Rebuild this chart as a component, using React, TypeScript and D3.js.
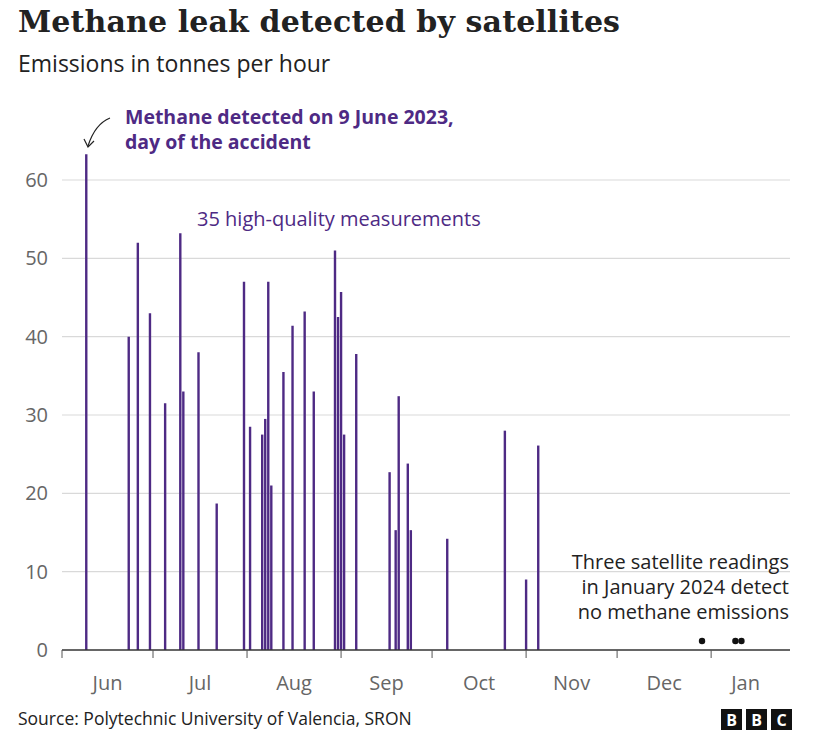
import React, { useRef, useEffect } from 'react';
import * as d3 from 'd3';

const dates = [
  '2023-06-09', '2023-06-23', '2023-06-26', '2023-06-30', '2023-07-05', '2023-07-10', '2023-07-11',
  '2023-07-16', '2023-07-22', '2023-07-31', '2023-08-02', '2023-08-06', '2023-08-07', '2023-08-08',
  '2023-08-09', '2023-08-13', '2023-08-16', '2023-08-20', '2023-08-23', '2023-08-30', '2023-08-31',
  '2023-09-01', '2023-09-02', '2023-09-06', '2023-09-17', '2023-09-19', '2023-09-20', '2023-09-23',
  '2023-09-24', '2023-10-06', '2023-10-25', '2023-11-01', '2023-11-05'
];
const emissions = [
  63.3, 40, 52, 43, 31.5, 53.2, 33, 38, 18.7, 47, 28.5, 27.5, 29.5, 47, 21, 35.5, 41.4, 43.2, 33,
  51, 42.5, 45.7, 27.5, 37.8, 22.7, 15.3, 32.4, 23.8, 15.3, 14.2, 28, 9, 26.1
];
const zeroDates = ['2023-12-29', '2024-01-09', '2024-01-11'];
const yTicks = [0, 10, 20, 30, 40, 50, 60];
const monthStarts = ['2023-06-01', '2023-07-01', '2023-08-01', '2023-09-01', '2023-10-01', '2023-11-01', '2023-12-01', '2024-01-01'];

const purple = '#4e2a84';

export default function App() {
  const ref = useRef<SVGSVGElement>(null);

  useEffect(() => {
    const svg = d3.select(ref.current!);
    svg.selectAll('*').remove();
    const W = 817, H = 740;
    const left = 62, right = 790, top = 180, bottom = 650;
    const parse = d3.timeParse('%Y-%m-%d');
    const endDate = parse('2024-01-27')!;
    const x = d3.scaleTime()
      .domain([parse('2023-06-01')!, endDate])
      .range([left, right]);
    const y = d3.scaleLinear().domain([0, 60]).range([bottom, top]);
    const font = '"Open Sans", "Noto Sans", sans-serif';

    svg.append('rect').attr('width', W).attr('height', H).attr('fill', '#fff');

    svg.append('text').attr('x', 18).attr('y', 32)
      .style('font-family', '"DejaVu Serif", serif').style('font-size', '30px').style('font-weight', 'bold')
      .attr('fill', '#222').attr('textLength', 602).text('Methane leak detected by satellites');
    svg.append('text').attr('x', 18).attr('y', 72)
      .style('font-family', font).style('font-size', '23px')
      .attr('fill', '#222').text('Emissions in tonnes per hour');

    // grid + y labels
    yTicks.forEach(t => {
      if (t > 0) {
        svg.append('line').attr('x1', left).attr('x2', right).attr('y1', y(t)).attr('y2', y(t))
          .attr('stroke', '#d9d9d9').attr('stroke-width', 1.2);
      }
      svg.append('text').attr('x', 48).attr('y', y(t) + 7).attr('text-anchor', 'end')
        .style('font-family', font).style('font-size', '20px').attr('fill', '#666').text(t);
    });

    // bars
    dates.forEach((d, i) => {
      svg.append('line')
        .attr('x1', x(parse(d)!)).attr('x2', x(parse(d)!))
        .attr('y1', y(0)).attr('y2', y(emissions[i]))
        .attr('stroke', purple).attr('stroke-width', 2.4);
    });

    // x axis
    svg.append('line').attr('x1', left).attr('x2', right).attr('y1', bottom).attr('y2', bottom)
      .attr('stroke', '#333').attr('stroke-width', 1.6);
    monthStarts.forEach((m, i) => {
      const d0 = parse(m)!;
      const px = x(d0);
      svg.append('line').attr('x1', px).attr('x2', px).attr('y1', bottom).attr('y2', bottom + 8)
        .attr('stroke', '#555').attr('stroke-width', 1);
      const d1 = i + 1 < monthStarts.length ? parse(monthStarts[i + 1])! : endDate;
      const mid = (px + x(d1)) / 2 - (i + 1 < monthStarts.length ? 0 : 5);
      svg.append('text').attr('x', mid).attr('y', 690).attr('text-anchor', 'middle')
        .style('font-family', font).style('font-size', '20px').attr('fill', '#666')
        .text(d3.timeFormat('%b')(d0));
    });

    // zero readings
    zeroDates.forEach(d => {
      svg.append('circle').attr('cx', x(parse(d)!)).attr('cy', y(0) - 9).attr('r', 3.2).attr('fill', '#111');
    });

    // annotations
    const a = svg.append('text').style('font-family', font).style('font-size', '19.5px')
      .style('font-weight', 'bold').attr('fill', purple);
    a.append('tspan').attr('x', 125).attr('y', 124).text('Methane detected on 9 June 2023,');
    a.append('tspan').attr('x', 125).attr('y', 149).text('day of the accident');
    svg.append('path').attr('d', 'M110,118 Q95,124 88,146').attr('fill', 'none')
      .attr('stroke', '#222').attr('stroke-width', 1.2);
    svg.append('path').attr('d', 'M84,139 L88,147 L94,141').attr('fill', 'none')
      .attr('stroke', '#222').attr('stroke-width', 1.2);

    svg.append('text').attr('x', 197).attr('y', 226).style('font-family', font).style('font-size', '20px')
      .attr('fill', purple).text('35 high-quality measurements');

    const r = svg.append('text').style('font-family', font).style('font-size', '20px')
      .attr('fill', '#222').attr('text-anchor', 'end');
    ['Three satellite readings', 'in January 2024 detect', 'no methane emissions'].forEach((s, i) => {
      r.append('tspan').attr('x', 789).attr('y', 569 + i * 25).text(s);
    });

    // footer
    svg.append('text').attr('x', 18).attr('y', 725).style('font-family', font).style('font-size', '17.5px')
      .attr('fill', '#222').text('Source: Polytechnic University of Valencia, SRON');
    ['B', 'B', 'C'].forEach((c, i) => {
      const bx = 721 + i * 25;
      svg.append('rect').attr('x', bx).attr('y', 709).attr('width', 21).attr('height', 21).attr('fill', '#111');
      svg.append('text').attr('x', bx + 10.5).attr('y', 726).attr('text-anchor', 'middle')
        .style('font-family', font).style('font-size', '16px').style('font-weight', 'bold')
        .attr('fill', '#fff').text(c);
    });
  }, []);

  return <svg ref={ref} width={817} height={740} style={{ position: 'absolute', left: 0, top: 0 }} />;
}
